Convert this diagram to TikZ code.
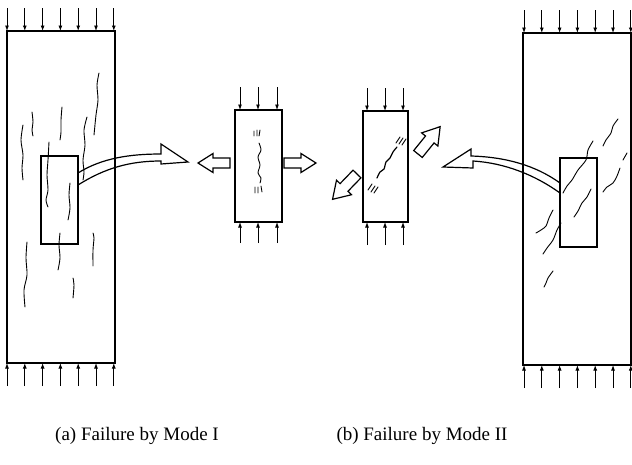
\documentclass[tikz,border=0pt]{standalone}
\usepackage{fontspec}
\setmainfont{Liberation Serif}
\usetikzlibrary{arrows.meta}
\tikzset{>=latex}
\tikzset{
  load/.style={line width=0.9pt, -{Latex[length=5.5pt,width=4pt]}},
  specimen/.style={line width=1.1pt},
  crack/.style={line width=0.9pt, line join=round, line cap=round},
  hollow/.style={line width=1.2pt, line join=miter},
  hollowarrow/.pic={\draw[hollow] (0,-5) -- (17,-5) -- (17,-9.5) -- (32,0) -- (17,9.5) -- (17,5) -- (0,5) -- cycle;}
}

\begin{document}
\begin{tikzpicture}[x=1pt, y=-1pt]
\useasboundingbox (0,0) rectangle (632,464);

% mode I: large specimen with vertical cracks
\draw[specimen] (7,31) rectangle (115,363);
\draw[specimen] (41,156) rectangle (78,244);
\foreach \i in {0,...,6}{
    \draw[load] (7+17.8*\i, 8) -- (7+17.8*\i, 31);
    \draw[load] (7+17.8*\i, 386) -- (7+17.8*\i, 363);
}
\draw[crack] plot[smooth] coordinates {(99,73) (97,85) (98,100) (96,115) (94,135)};
\draw[crack] plot[smooth] coordinates {(32,112) (33,122) (32,130) (33,136)};
\draw[crack] plot[smooth] coordinates {(62,107) (61,120) (61,132) (60,140)};
\draw[crack] plot[smooth] coordinates {(23,125) (21,140) (23,155) (22,168) (23,180)};
\draw[crack] plot[smooth] coordinates {(87,117) (84,130) (85,145) (83,160) (84,172) (83,180)};
\draw[crack] plot[smooth] coordinates {(49,142) (48,160) (47,175) (48,190) (46,200) (48,207)};
\draw[crack] plot[smooth] coordinates {(70,183) (69,195) (70,208) (68,220)};
\draw[crack] plot[smooth] coordinates {(60,233) (59,245) (60,258) (58,270)};
\draw[crack] plot[smooth] coordinates {(27,242) (26,258) (27,275) (24,290) (25,307)};
\draw[crack] plot[smooth] coordinates {(93,233) (94,238) (93,250) (93,266)};
\draw[crack] plot[smooth] coordinates {(73,278) (74,285) (73,298)};

% curved arrow out of the element
\draw[hollow] (78,185) .. controls (105,168) and (130,161) .. (161,161) -- (161,164) -- (188,162)
    -- (161,144) -- (161,154) .. controls (130,154) and (102,158) .. (78,173);

% mode I: element in tension
\draw[specimen] (235,110) rectangle (282,222);
\foreach \x in {240,258,277}{
    \draw[load] (\x, 87) -- (\x, 110);
    \draw[load] (\x, 243) -- (\x, 222);
}
\draw[crack] plot[smooth] coordinates {(259,143) (261,150) (258,157) (260,165) (258,173) (261,178) (260,183)};
\draw[crack] (254,131) -- (254,136) (257,130) -- (257,136) (260,130) -- (259,136);
\draw[crack] (255,187) -- (255,193) (258,187) -- (258,193) (261,186) -- (262,192);
\pic[rotate=180] at (230,163) {hollowarrow};
\pic at (284,163) {hollowarrow};

% mode II: element in shear
\draw[specimen] (363,111) rectangle (408,222);
\foreach \x in {367,385,403}{
    \draw[load] (\x, 88) -- (\x, 111);
    \draw[load] (\x, 245) -- (\x, 222);
}
\draw[crack, line width=1.2pt] plot[smooth] coordinates {(377,178) (380,172) (384,169) (386,162) (390,158) (393,152) (397,147)};
\draw[crack] (396,143) -- (400,137) (399,144) -- (403,138) (402,145) -- (406,139);
\draw[crack] (368,190) -- (372,184) (371,192) -- (375,186) (374,193) -- (378,187);
\pic[rotate=51, scale=1.1] at (418,154) {hollowarrow};
\pic[rotate=226, scale=1.1] at (357,174) {hollowarrow};

% mode II: large specimen with inclined cracks
\draw[specimen] (631,33) -- (523,33) -- (523,365) -- (631,365) -- cycle;
\draw[specimen] (560,158) rectangle (597,247);
\foreach \i in {0,...,6}{
    \draw[load] (524+17.8*\i, 10) -- (524+17.8*\i, 33);
    \draw[load] (524+17.8*\i, 388) -- (524+17.8*\i, 365);
}
\draw[crack] plot[smooth] coordinates {(618,119) (613,126) (611,133) (606,140) (603,146)};
\draw[crack] plot[smooth] coordinates {(593,141) (588,150) (586,160) (578,170) (572,180) (567,186) (563,193)};
\draw[crack] (627,153) -- (623,160);
\draw[crack] plot[smooth] coordinates {(620,168) (617,176) (613,183) (607,187) (603,192)};
\draw[crack] plot[smooth] coordinates {(591,189) (587,197) (582,203) (578,211) (574,217)};
\draw[crack] plot[smooth] coordinates {(553,210) (549,218) (546,226) (541,230) (536,233)};
\draw[crack] plot[smooth] coordinates {(561,223) (557,230) (553,240) (547,248) (543,254)};
\draw[crack] plot[smooth] coordinates {(553,271) (548,278) (546,283) (544,287)};

% curved arrow into the element
\draw[hollow] (560,183) .. controls (535,165) and (505,157) .. (471,156) -- (471,149) -- (443,167)
    -- (473,168) -- (473,161) .. controls (505,163) and (535,175) .. (560,193);

% captions
\node[font=\fontsize{19}{23}\selectfont] (captionA) at (137,436) {(a) Failure by Mode I};
\node[font=\fontsize{19}{23}\selectfont] (captionB) at (422,436) {(b) Failure by Mode II};

\end{tikzpicture}
\end{document}
